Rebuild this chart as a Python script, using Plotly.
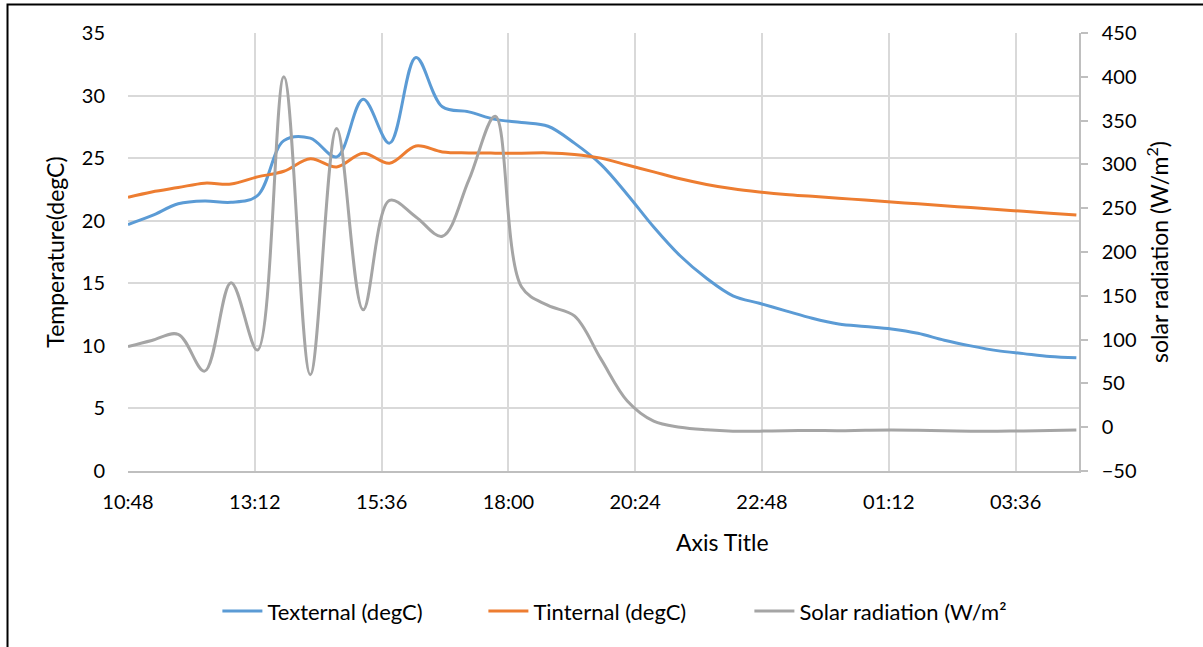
import plotly.graph_objects as go
from datetime import datetime, timedelta

times = ["10:48", "11:15", "11:45", "12:15", "12:45", "13:15", "13:45", "14:15", "14:45",
         "15:15", "15:45", "16:15", "16:45", "17:15", "17:45", "18:15", "18:45", "19:15",
         "19:45", "20:15", "20:45", "21:15", "21:45", "22:15", "22:45", "23:15", "23:45",
         "00:15", "00:45", "01:15", "01:45", "02:15", "02:45", "03:15", "03:45", "04:15", "04:45"]

t_external = [19.7, 20.4, 21.35, 21.58, 21.47, 22.0, 26.4, 26.6, 25.1,
              29.7, 26.2, 33.05, 29.1, 28.7, 28.1, 27.85, 27.55, 26.2,
              24.5, 22.1, 19.5, 17.2, 15.4, 14.0, 13.4, 12.8, 12.2,
              11.75, 11.55, 11.35, 11.0, 10.45, 10.0, 9.62, 9.38, 9.15, 9.05]

t_internal = [21.87, 22.3, 22.65, 23.0, 22.93, 23.5, 23.95, 24.95, 24.3,
              25.4, 24.6, 25.97, 25.5, 25.42, 25.4, 25.4, 25.42, 25.3,
              25.0, 24.45, 23.9, 23.35, 22.9, 22.55, 22.3, 22.1, 21.95,
              21.8, 21.65, 21.5, 21.35, 21.2, 21.05, 20.9, 20.75, 20.6, 20.45]

solar = [92, 99, 106, 64, 165, 88, 400, 60, 341,
         134, 259, 240, 218, 282, 355, 160, 139, 127,
         78, 30, 7, 0, -3, -4.5, -4.5, -4, -3.8,
         -4, -3.5, -3.2, -3.5, -4, -4.5, -4.5, -4.3, -3.8, -3.3]

x_tick_labels = ["10:48", "13:12", "15:36", "18:00", "20:24", "22:48", "01:12", "03:36"]


def to_datetimes(labels):
    base = datetime(2000, 1, 1)
    out, prev, day = [], None, 0
    for t in labels:
        h, m = map(int, t.split(":"))
        if prev is not None and h * 60 + m < prev:
            day += 1
        prev = h * 60 + m
        out.append(base + timedelta(days=day, hours=h, minutes=m))
    return out


xs = to_datetimes(times)
tickvals = to_datetimes(x_tick_labels)
base = datetime(2000, 1, 1)

FONT = "Lato, 'Open Sans', sans-serif"
TICK = 20
TITLE = 23

fig = go.Figure()
fig.add_trace(go.Scatter(x=xs, y=t_external, name="Texternal (degC)", mode="lines",
                         line=dict(color="#5b9bd5", width=3, shape="spline", smoothing=1.0)))
fig.add_trace(go.Scatter(x=xs, y=t_internal, name="Tinternal (degC)", mode="lines",
                         line=dict(color="#ed7d31", width=3, shape="spline", smoothing=1.0)))
fig.add_trace(go.Scatter(x=xs, y=solar, name="Solar radiation (W/m²", mode="lines", yaxis="y2",
                         line=dict(color="#a5a5a5", width=3, shape="spline", smoothing=1.0)))

fig.update_layout(
    width=1203, height=647,
    margin=dict(l=128, r=124, t=33, b=176),
    paper_bgcolor="white", plot_bgcolor="white",
    font=dict(family=FONT, size=TICK, color="#000000"),
    xaxis=dict(
        type="date",
        range=[base + timedelta(hours=10, minutes=48), base + timedelta(days=1, hours=4, minutes=48)],
        tickvals=tickvals, ticktext=x_tick_labels,
        showgrid=True, gridcolor="#d9d9d9", gridwidth=1.5,
        showline=True, linecolor="#bfbfbf", linewidth=1.5,
        ticks="", ticklabelstandoff=12,
        tickfont=dict(size=TICK, family=FONT),
        zeroline=False,
    ),
    yaxis=dict(
        range=[0, 35], tick0=0, dtick=5,
        showgrid=True, gridcolor="#d9d9d9", gridwidth=1.5,
        showline=False, zeroline=False,
        ticks="", ticklabelstandoff=22,
        tickfont=dict(size=TICK, family=FONT),
        title=dict(text="Temperature(degC)", font=dict(size=TITLE, family=FONT), standoff=10),
    ),
    yaxis2=dict(
        range=[-50, 450], tick0=-50, dtick=50,
        overlaying="y", side="right",
        showgrid=False, zeroline=False,
        showline=True, linecolor="#bfbfbf", linewidth=1.5,
        ticks="outside", ticklen=7, tickcolor="#bfbfbf", tickwidth=1.5,
        ticklabelstandoff=10,
        tickfont=dict(size=TICK, family=FONT),
        title=dict(text="solar radiation (W/m<sup>2</sup>)", font=dict(size=TITLE, family=FONT), standoff=16),
    ),
    showlegend=True,
    legend=dict(orientation="h", x=0.094, xanchor="left", y=-0.32, yanchor="middle",
                font=dict(size=22, family=FONT), itemwidth=40, traceorder="normal",
                entrywidth=211, entrywidthmode="pixels",
                bgcolor="rgba(0,0,0,0)"),
    annotations=[dict(text="Axis Title", xref="paper", yref="paper", x=0.625, y=-0.162,
                      showarrow=False, xanchor="center", yanchor="middle",
                      font=dict(size=TITLE, family=FONT))],
    shapes=[dict(type="path", xref="paper", yref="paper",
                 path="M -0.1267,-0.45 L -0.1267,1.0651 L 1.15,1.0651",
                 line=dict(color="black", width=2))],
)

fig.write_html("out.html")
